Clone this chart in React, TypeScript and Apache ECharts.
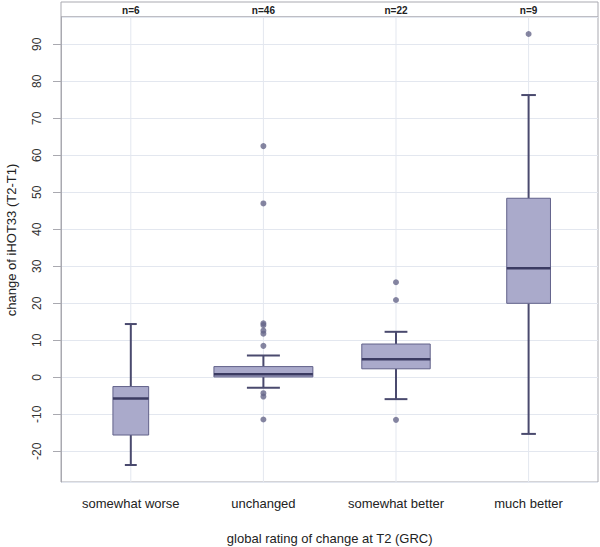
import React, { useEffect, useRef } from "react";
import * as echarts from "echarts";

const categories = ["somewhat worse", "unchanged", "somewhat better", "much better"];
const counts = [6, 46, 22, 9];
const headerLabels = ["n=6", "n=46", "n=22", "n=9"];
// [low whisker, Q1, median, Q3, high whisker]
const boxStats = [
  [-23.7, -15.6, -5.7, -2.5, 14.4],
  [-2.8, 0.1, 0.8, 2.9, 5.9],
  [-5.9, 2.3, 4.9, 9.0, 12.3],
  [-15.3, 20.0, 29.5, 48.4, 76.3],
];
const outliers: number[][] = [
  [],
  [62.5, 47.0, 14.6, 14.1, 12.6, 11.8, 8.5, -4.3, -5.2, -11.4],
  [25.7, 20.9, -11.5],
  [92.8],
];
const yMin = -28.3;
const yMax = 97.4;

const FONT = "Liberation Sans, Arial, Helvetica, sans-serif";

export default function App() {
  const ref = useRef<HTMLDivElement>(null);
  useEffect(() => {
    if (!ref.current) return;
    const chart = echarts.init(ref.current, undefined, { renderer: "svg" });
    const boxData = boxStats.map((s, i) => [i, ...s, counts[i]]);
    const outlierData: number[][] = [];
    outliers.forEach((arr, i) => arr.forEach((v) => outlierData.push([i, v])));

    const renderItem = (params: any, api: any) => {
      const idx = api.value(0);
      const low = api.value(1);
      const q1 = api.value(2);
      const med = api.value(3);
      const q3 = api.value(4);
      const high = api.value(5);
      const n = api.value(6);
      const band = api.size([1, 0])[0];
      const w = band * 0.11 * Math.sqrt(n);
      const cap = w / 3;
      const pLow = api.coord([idx, low]);
      const pQ1 = api.coord([idx, q1]);
      const pMed = api.coord([idx, med]);
      const pQ3 = api.coord([idx, q3]);
      const pHigh = api.coord([idx, high]);
      const cx = pMed[0];
      const cs = params.coordSys;
      const whisker = { stroke: "#4a4a6e", lineWidth: 2 };
      return {
        type: "group",
        children: [
          {
            type: "line",
            shape: { x1: cx, y1: cs.y, x2: cx, y2: cs.y + cs.height },
            style: { stroke: "#e3e7ef", lineWidth: 1 },
            z2: 0,
          },
          { type: "line", shape: { x1: cx, y1: pHigh[1], x2: cx, y2: pQ3[1] }, style: whisker, z2: 1 },
          { type: "line", shape: { x1: cx, y1: pQ1[1], x2: cx, y2: pLow[1] }, style: whisker, z2: 1 },
          { type: "line", shape: { x1: cx - cap / 2, y1: pHigh[1], x2: cx + cap / 2, y2: pHigh[1] }, style: whisker, z2: 1 },
          { type: "line", shape: { x1: cx - cap / 2, y1: pLow[1], x2: cx + cap / 2, y2: pLow[1] }, style: whisker, z2: 1 },
          {
            type: "rect",
            shape: { x: cx - w / 2, y: pQ3[1], width: w, height: pQ1[1] - pQ3[1] },
            style: { fill: "#aaaacb", stroke: "#62628a", lineWidth: 1 },
            z2: 2,
          },
          {
            type: "line",
            shape: { x1: cx - w / 2, y1: pMed[1], x2: cx + w / 2, y2: pMed[1] },
            style: { stroke: "#3b3b62", lineWidth: 2.5 },
            z2: 3,
          },
        ],
      };
    };

    chart.setOption({
      animation: false,
      backgroundColor: "#ffffff",
      grid: [
        {
          left: 61, right: 2, top: 17, bottom: 65,
          show: true, borderColor: "#a9a9b0", borderWidth: 1, backgroundColor: "transparent",
          containLabel: false, outerBoundsMode: "none",
        },
        { left: 64.5, right: 5.1, top: 17, bottom: 65, containLabel: false, outerBoundsMode: "none" },
      ],
      xAxis: [
        { gridIndex: 0, type: "value", min: 0, max: 1, show: false },
        {
          gridIndex: 1,
          type: "category",
          data: categories,
          position: "bottom",
          boundaryGap: true,
          axisLine: { show: false },
          axisTick: { show: false },
          splitLine: { show: false },
          axisLabel: { color: "#222", fontSize: 13, fontFamily: FONT, margin: 15 },
          name: "global rating of change at T2 (GRC)",
          nameLocation: "middle",
          nameGap: 50,
          nameTextStyle: { color: "#222", fontSize: 13, fontFamily: FONT },
        },
        {
          gridIndex: 1,
          type: "category",
          data: headerLabels,
          position: "top",
          boundaryGap: true,
          axisLine: { show: false },
          axisTick: { show: false },
          splitLine: { show: false },
          axisLabel: { color: "#222", fontSize: 10, fontWeight: "bold", fontFamily: FONT, margin: 2 },
        },
      ],
      yAxis: [
        {
          gridIndex: 0,
          type: "value",
          min: yMin,
          max: yMax,
          splitNumber: 12,
          axisLine: { show: true, lineStyle: { color: "#a9a9b0" } },
          axisTick: { show: true, length: 8, lineStyle: { color: "#a9a9b0" } },
          splitLine: { show: true, lineStyle: { color: "#e3e7ef", width: 1 } },
          axisLabel: {
            rotate: 90,
            color: "#333",
            fontSize: 12,
            fontFamily: FONT,
            margin: 18,
            showMinLabel: false,
            showMaxLabel: false,
          },
        },
        { gridIndex: 1, type: "value", min: yMin, max: yMax, show: false, splitLine: { show: false } },
      ],
      graphic: [
        {
          type: "rect",
          shape: { x: 61, y: 2, width: 537, height: 15 },
          style: { fill: "none", stroke: "#a9a9b0", lineWidth: 1 },
          z: 0,
        },
        {
          type: "text",
          x: 11,
          y: 240,
          rotation: Math.PI / 2,
          style: {
            text: "change of iHOT33 (T2-T1)",
            fill: "#222",
            fontSize: 13,
            fontFamily: FONT,
            textAlign: "center",
            textVerticalAlign: "middle",
          },
        },
      ],
      series: [
        {
          type: "custom",
          xAxisIndex: 1,
          yAxisIndex: 1,
          renderItem,
          data: boxData,
          encode: { x: 0, y: [1, 2, 3, 4, 5] },
          z: 2,
          silent: true,
        },
        {
          type: "scatter",
          xAxisIndex: 1,
          yAxisIndex: 1,
          data: outlierData,
          symbolSize: 6,
          itemStyle: { color: "#66668a" },
          z: 3,
          silent: true,
        },
      ],
    });
    return () => chart.dispose();
  }, []);
  return <div ref={ref} style={{ width: 600, height: 547, position: "absolute", left: 0, top: 0 }} />;
}
